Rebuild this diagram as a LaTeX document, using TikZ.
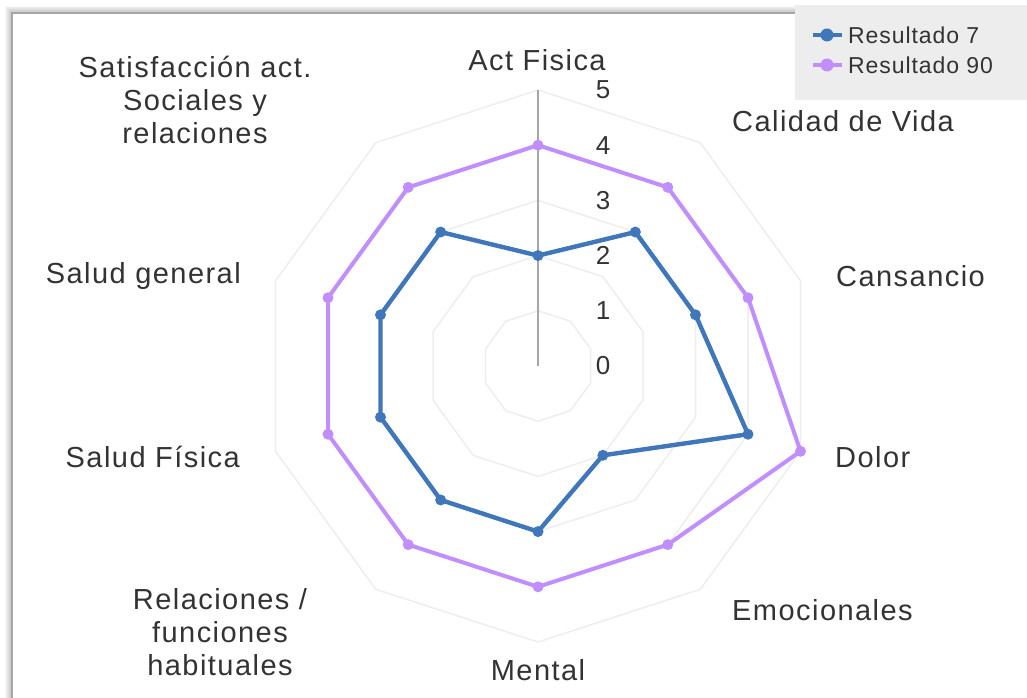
\documentclass[tikz,border=0pt]{standalone}
\usepackage{fontspec}
\setmainfont{Liberation Sans}
\definecolor{resblue}{RGB}{64,118,186}
\definecolor{respurple}{RGB}{193,142,255}
\definecolor{webgray}{RGB}{238,238,238}

\begin{document}
\begin{tikzpicture}[x=1pt, y=1pt,
  cat/.style={font=\fontsize{29}{33}\selectfont\addfontfeature{LetterSpace=5}, text=black!80, align=center, inner sep=0pt},
  tick/.style={font=\fontsize{26}{28}\selectfont, text=black!80, inner sep=0pt},
  legtext/.style={font=\fontsize{23}{26}\selectfont\addfontfeature{LetterSpace=4}, text=black!80, inner sep=0pt, anchor=west},
  web/.style={webgray, line width=1.5pt},
  serie/.style={line width=4pt, line join=round},
  dot/.style={circle, fill, inner sep=0pt, minimum size=11pt}]
  \useasboundingbox (0,0) rectangle (1027,698);
  \fill[white] (0,0) rectangle (1027,698);
  \foreach \k in {1,...,10}
    \draw[black, opacity=0.025, line width=\k*1.4pt] (12,-20) -- (12,685) -- (1050,685);
  \fill[white] (12,-20) rectangle (1050,685);
  \draw[black!35, line width=1.5pt] (12,-20) -- (12,685) -- (1050,685);
  \begin{scope}[shift={(538,332)}]
    \coordinate (c) at (0,0);
    \foreach \r in {1,...,5}
      \draw[web] (90:\r*55.2) \foreach \a in {1,...,9} { -- (90-36*\a:\r*55.2) } -- cycle;
    \coordinate (top) at (90:5*55.2);
    \draw[black!35, line width=1.3pt] (c) -- (top);
    \foreach \v [count=\i] in {4,4,4,5,4,4,4,4,4,4}
      \coordinate (p\i) at (126-36*\i:\v*55.2);
    \foreach \v [count=\i] in {2,3,3,4,2,3,3,3,3,3}
      \coordinate (b\i) at (126-36*\i:\v*55.2);
    \draw[serie, respurple] (p1) \foreach \i in {2,...,10} { -- (p\i) } -- cycle;
    \draw[serie, resblue, line width=4.4pt] (b1) \foreach \i in {2,...,10} { -- (b\i) } -- cycle;
    \foreach \i in {1,...,10} {
      \node[dot, respurple] (pd\i) at (p\i) {};
      \node[dot, resblue] (bd\i) at (b\i) {};
    }
    \foreach \t in {0,...,5}
      \node[tick] (t\t) at (65,\t*55.2) {\t};
  \end{scope}
  \node[cat] (actfis) at (537,638) {Act Fisica};
  \node[cat, anchor=west] (calidad) at (732,577) {Calidad de Vida};
  \node[cat, anchor=west] (cansancio) at (836,422) {Cansancio};
  \node[cat, anchor=west] (dolor) at (835,241) {Dolor};
  \node[cat, anchor=west] (emoc) at (732,88) {Emocionales};
  \node[cat] (mental) at (538,28) {Mental};
  \node[cat] (relac) at (220,66) {Relaciones /\\funciones\\habituales};
  \node[cat, anchor=east] (saludfis) at (240,241) {Salud Física};
  \node[cat, anchor=east] (saludgen) at (241,422) {Salud general};
  \node[cat] (satisf) at (195,598) {Satisfacción act.\\Sociales y\\relaciones};
  \fill[black!7] (795,598) rectangle (1027,693);
  \coordinate (l1a) at (813,663);
  \coordinate (l1b) at (842,663);
  \coordinate (l2a) at (813,633);
  \coordinate (l2b) at (842,633);
  \draw[resblue, line width=3.5pt] (l1a) -- (l1b);
  \node[dot, resblue, minimum size=13pt] (l1) at (827,663) {};
  \node[legtext] (r7) at (848,663) {Resultado 7};
  \draw[respurple, line width=3.5pt] (l2a) -- (l2b);
  \node[dot, respurple, minimum size=13pt] (l2) at (827,633) {};
  \node[legtext] (r90) at (848,633) {Resultado 90};
\end{tikzpicture}
\end{document}
